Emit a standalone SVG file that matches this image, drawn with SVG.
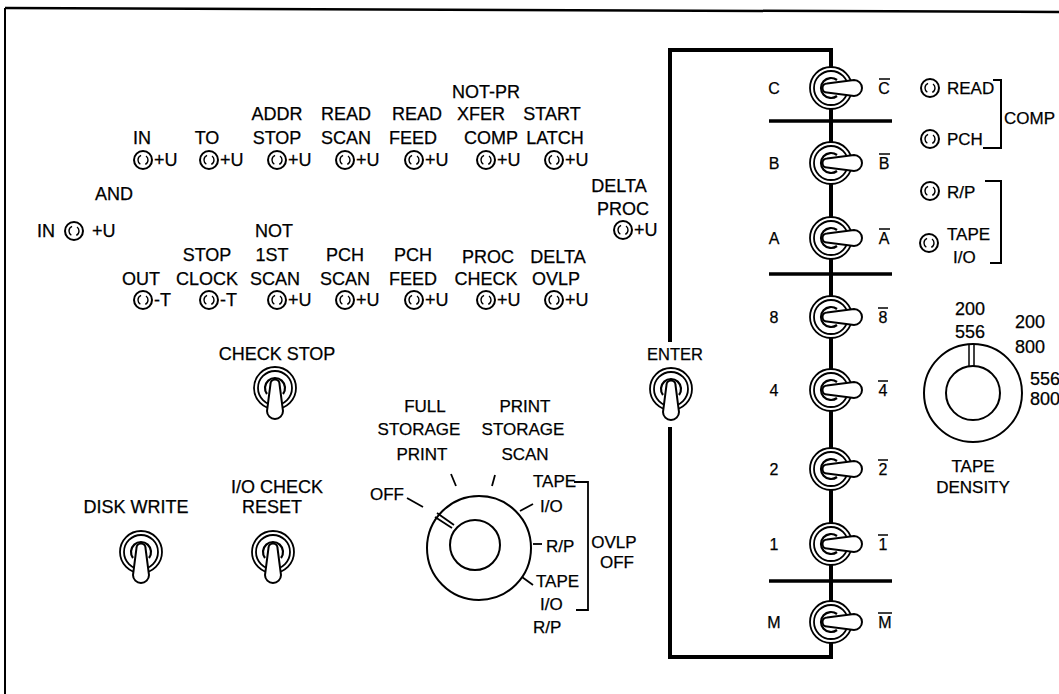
<svg xmlns="http://www.w3.org/2000/svg" width="1059" height="694" viewBox="0 0 1059 694">
<style>
text{font-family:"Liberation Sans",Arial,sans-serif;font-size:18px;fill:#000;stroke:#000;stroke-width:0.25}
.m{text-anchor:middle}
.s{font-size:16px}
.e{font-size:16.5px}
.k{font-size:17px}
.ln{stroke:#000;fill:none}
</style>
<defs>
<g id="lamp">
<circle r="9" fill="#fff" stroke="#000" stroke-width="2"/>
<circle r="5" fill="none" stroke="#000" stroke-width="1.4" stroke-dasharray="10.5 5.2" stroke-dashoffset="5.25"/>
</g>
<g id="tog">
<circle r="21" fill="#fff" stroke="#000" stroke-width="1.8"/>
<circle r="17" fill="none" stroke="#000" stroke-width="1.8"/>
<path d="M6,-8 A10,10 0 1 0 6,8" fill="none" stroke="#000" stroke-width="2.2"/>
<path d="M-4,-4.5 L23,-8 A8,8 0 0 1 23,8 L-4,4.5 A4.5,4.5 0 0 1 -4,-4.5 Z" fill="#fff" stroke="#000" stroke-width="2"/>
</g>
</defs>
<rect width="1059" height="694" fill="#fff"/>
<g id="frame" class="ln">
<line x1="5" y1="8" x2="1059" y2="12" stroke-width="2.5"/>
<line x1="5" y1="8" x2="5" y2="694" stroke-width="2"/>
</g>
<g id="connectors" class="ln">
<path d="M670,342 V50 H831 V657 H670 V427" stroke-width="4"/>
<line x1="769" y1="121" x2="892" y2="121" stroke-width="3.5"/>
<line x1="769" y1="274" x2="892" y2="274" stroke-width="3.5"/>
<line x1="769" y1="581" x2="892" y2="581" stroke-width="3.5"/>
</g>
<g id="lamps-top">
<text class="m" x="142" y="144">IN</text>
<text class="m" x="207" y="144">TO</text>
<text class="m" x="277" y="120">ADDR</text><text class="m" x="277" y="144">STOP</text>
<text class="m" x="346" y="120">READ</text><text class="m" x="346" y="144">SCAN</text>
<text class="m" x="417" y="120">READ</text><text class="m" x="413" y="144">FEED</text>
<text class="m" x="486" y="98">NOT-PR</text><text class="m" x="481" y="120">XFER</text><text class="m" x="491" y="144">COMP</text>
<text class="m" x="552" y="120">START</text><text class="m" x="555" y="144">LATCH</text>
<use href="#lamp" x="143" y="160"/><text x="154" y="166">+U</text>
<use href="#lamp" x="209" y="160"/><text x="220" y="166">+U</text>
<use href="#lamp" x="277" y="160"/><text x="288" y="166">+U</text>
<use href="#lamp" x="345" y="160"/><text x="356" y="166">+U</text>
<use href="#lamp" x="414" y="160"/><text x="425" y="166">+U</text>
<use href="#lamp" x="486" y="160"/><text x="497" y="166">+U</text>
<use href="#lamp" x="554" y="160"/><text x="565" y="166">+U</text>
</g>
<g id="and-in">
<text class="m" x="114" y="200">AND</text>
<text x="37" y="237">IN</text>
<use href="#lamp" x="74" y="231"/>
<text x="92" y="237">+U</text>
</g>
<g id="delta-proc">
<text class="m" x="619" y="192">DELTA</text>
<text class="m" x="623" y="215">PROC</text>
<use href="#lamp" x="623" y="230"/><text x="634" y="236">+U</text>
</g>
<g id="lamps-bottom">
<text class="m" x="141" y="285">OUT</text>
<text class="m" x="207" y="261">STOP</text><text class="m" x="207" y="285">CLOCK</text>
<text class="m" x="274" y="237">NOT</text><text class="m" x="272" y="261">1ST</text><text class="m" x="275" y="285">SCAN</text>
<text class="m" x="345" y="261">PCH</text><text class="m" x="345" y="285">SCAN</text>
<text class="m" x="413" y="261">PCH</text><text class="m" x="413" y="285">FEED</text>
<text class="m" x="488" y="263">PROC</text><text class="m" x="486" y="285">CHECK</text>
<text class="m" x="558" y="263">DELTA</text><text class="m" x="556" y="285">OVLP</text>
<use href="#lamp" x="143" y="300"/><text x="154" y="306">-T</text>
<use href="#lamp" x="209" y="300"/><text x="220" y="306">-T</text>
<use href="#lamp" x="277" y="300"/><text x="288" y="306">+U</text>
<use href="#lamp" x="345" y="300"/><text x="356" y="306">+U</text>
<use href="#lamp" x="414" y="300"/><text x="425" y="306">+U</text>
<use href="#lamp" x="486" y="300"/><text x="497" y="306">+U</text>
<use href="#lamp" x="554" y="300"/><text x="565" y="306">+U</text>
</g>
<g id="check-stop">
<text class="m" x="277" y="360">CHECK STOP</text>
<use href="#tog" transform="translate(275,388) rotate(90)"/>
</g>
<g id="enter">
<text class="m e" x="675" y="360">ENTER</text>
<use href="#tog" transform="translate(671,389) rotate(90)"/>
</g>
<g id="disk-write">
<text class="m" x="136" y="513">DISK WRITE</text>
<use href="#tog" transform="translate(141,552) rotate(90)"/>
</g>
<g id="io-check-reset">
<text class="m" x="277" y="493">I/O CHECK</text>
<text class="m" x="272" y="513">RESET</text>
<use href="#tog" transform="translate(273,552) rotate(90)"/>
</g>
<g id="mode-dial">
<circle cx="479" cy="548" r="52" fill="none" stroke="#000" stroke-width="2"/>
<circle cx="475" cy="545" r="25" fill="none" stroke="#000" stroke-width="2"/>
<g class="ln" stroke-width="1.8">
<line x1="435" y1="517" x2="452" y2="528"/>
<line x1="437" y1="513" x2="454" y2="525"/>
<line x1="407" y1="498" x2="423" y2="507"/>
<line x1="451" y1="474" x2="456" y2="486"/>
<line x1="495" y1="475" x2="492" y2="486"/>
<line x1="520" y1="511" x2="533" y2="504"/>
<line x1="533" y1="544" x2="542" y2="544"/>
<line x1="522" y1="577" x2="533" y2="585"/>
<path d="M574,482 H588 V610 H576"/>
</g>
<text class="m k" x="425" y="412">FULL</text>
<text class="m k" x="419" y="435">STORAGE</text>
<text class="m k" x="422" y="460">PRINT</text>
<text class="m k" x="525" y="412">PRINT</text>
<text class="m k" x="523" y="435">STORAGE</text>
<text class="m k" x="525" y="460">SCAN</text>
<text class="k" x="370" y="500">OFF</text>
<text class="k" x="533" y="487">TAPE</text>
<text class="k" x="540" y="512">I/O</text>
<text class="k" x="546" y="552">R/P</text>
<text class="k" x="536" y="587">TAPE</text>
<text class="k" x="540" y="610">I/O</text>
<text class="k" x="533" y="633">R/P</text>
<text class="m k" x="614" y="548">OVLP</text>
<text class="m k" x="617" y="568">OFF</text>
</g>
<g id="sw-C"><use href="#tog" x="831" y="88"/><text class="m s" x="774" y="94">C</text><text class="m s" x="884" y="94">C</text><line class="ln" x1="879" y1="79" x2="890" y2="79" stroke-width="1.5"/></g>
<g id="sw-B"><use href="#tog" x="831" y="163"/><text class="m s" x="774" y="169">B</text><text class="m s" x="884" y="169">B</text><line class="ln" x1="879" y1="154" x2="890" y2="154" stroke-width="1.5"/></g>
<g id="sw-A"><use href="#tog" x="831" y="238"/><text class="m s" x="774" y="244">A</text><text class="m s" x="884" y="244">A</text><line class="ln" x1="879" y1="229" x2="890" y2="229" stroke-width="1.5"/></g>
<g id="sw-8"><use href="#tog" x="831" y="317"/><text class="m s" x="774" y="323">8</text><text class="m s" x="883" y="323">8</text><line class="ln" x1="878" y1="308" x2="888" y2="308" stroke-width="1.5"/></g>
<g id="sw-4"><use href="#tog" x="831" y="390"/><text class="m s" x="774" y="396">4</text><text class="m s" x="883" y="396">4</text><line class="ln" x1="878" y1="381" x2="888" y2="381" stroke-width="1.5"/></g>
<g id="sw-2"><use href="#tog" x="831" y="469"/><text class="m s" x="774" y="475">2</text><text class="m s" x="883" y="475">2</text><line class="ln" x1="878" y1="460" x2="888" y2="460" stroke-width="1.5"/></g>
<g id="sw-1"><use href="#tog" x="831" y="544"/><text class="m s" x="774" y="550">1</text><text class="m s" x="883" y="550">1</text><line class="ln" x1="878" y1="535" x2="888" y2="535" stroke-width="1.5"/></g>
<g id="sw-M"><use href="#tog" x="831" y="622"/><text class="m s" x="774" y="628">M</text><text class="m s" x="885" y="628">M</text><line class="ln" x1="878" y1="613" x2="892" y2="613" stroke-width="1.5"/></g>
<g id="comp-lamps">
<use href="#lamp" x="930" y="88"/><text class="k" x="947" y="94">READ</text>
<use href="#lamp" x="930" y="139"/><text class="k" x="947" y="145">PCH</text>
<path class="ln" d="M993,80 H1001 V148 H983" stroke-width="2"/>
<text class="k" x="1004" y="124">COMP</text>
</g>
<g id="rp-lamps">
<use href="#lamp" x="930" y="191"/><text class="k" x="947" y="198">R/P</text>
<use href="#lamp" x="929" y="243"/><text class="k" x="947" y="240">TAPE</text><text class="k" x="953" y="263">I/O</text>
<path class="ln" d="M985,181 H1001 V263 H990" stroke-width="2"/>
</g>
<g id="tape-density">
<circle cx="973" cy="393" r="49" fill="none" stroke="#000" stroke-width="2"/>
<circle cx="973" cy="393" r="27" fill="none" stroke="#000" stroke-width="2"/>
<line class="ln" x1="969" y1="344" x2="969" y2="366" stroke-width="1.5"/>
<line class="ln" x1="974" y1="344" x2="974" y2="366" stroke-width="1.5"/>
<text class="m" x="970" y="315">200</text>
<text class="m" x="970" y="338">556</text>
<text x="1015" y="328">200</text>
<text x="1015" y="353">800</text>
<text x="1030" y="385">556</text>
<text x="1030" y="405">800</text>
<text class="m k" x="973" y="472">TAPE</text>
<text class="m k" x="973" y="493">DENSITY</text>
</g>
</svg>
